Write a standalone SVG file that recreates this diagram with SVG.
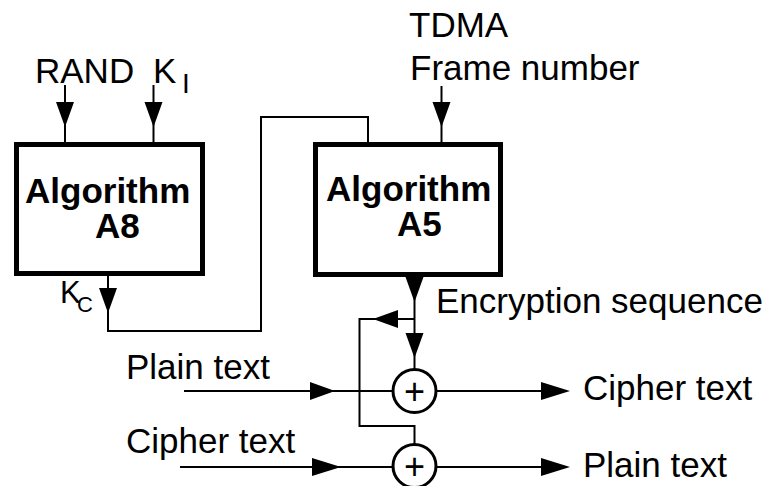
<svg xmlns="http://www.w3.org/2000/svg" xmlns:xlink="http://www.w3.org/1999/xlink" width="769" height="486" viewBox="0 0 769 486">
<style>
text{font-family:"Liberation Sans",Arial,sans-serif;fill:#000}
.lbl{font-size:35px}
.bold{font-size:35px;font-weight:bold}
.box{fill:#fff;stroke:#000;stroke-width:5}
.wire{fill:none;stroke:#000;stroke-width:2}
.xor{fill:#fff;stroke:#000;stroke-width:3}
.plus{font-size:36px;text-anchor:middle}
</style>
<defs>
<path id="ah" d="M0,0 L-25,-9 L-25,9 Z" fill="#000"/>
<path id="ahl" d="M0,0 L-29,-9 L-29,9 Z" fill="#000"/>
</defs>
<rect width="769" height="486" fill="#fff"/>
<g id="connectors">
<line class="wire" x1="65" y1="85" x2="65" y2="142"/>
<use xlink:href="#ah" transform="translate(65,127) rotate(90)"/>
<line class="wire" x1="153.5" y1="85" x2="153.5" y2="142"/>
<use xlink:href="#ah" transform="translate(153.5,127) rotate(90)"/>
<line class="wire" x1="441.5" y1="86" x2="441.5" y2="143"/>
<use xlink:href="#ah" transform="translate(441.5,127) rotate(90)"/>
<polyline class="wire" points="108,276 108,331 261,331 261,117 368,117 368,143"/>
<use xlink:href="#ah" transform="translate(108,313) rotate(90)"/>
<line class="wire" x1="414.5" y1="277" x2="414.5" y2="370"/>
<use xlink:href="#ah" transform="translate(414.5,302) rotate(90)"/>
<use xlink:href="#ah" transform="translate(414.5,358) rotate(90)"/>
<polyline class="wire" points="414.5,319 359.5,319 359.5,426 414.5,426 414.5,445"/>
<use xlink:href="#ah" transform="translate(373,319) rotate(180)"/>
<line class="wire" x1="184" y1="391" x2="394" y2="391"/>
<use xlink:href="#ah" transform="translate(335,391)"/>
<line class="wire" x1="436" y1="391" x2="550" y2="391"/>
<use xlink:href="#ahl" transform="translate(570,391)"/>
<line class="wire" x1="180" y1="467" x2="394" y2="467"/>
<use xlink:href="#ahl" transform="translate(341,467)"/>
<line class="wire" x1="436" y1="467" x2="550" y2="467"/>
<use xlink:href="#ahl" transform="translate(570,467)"/>
</g>
<g id="a8">
<rect class="box" x="16.5" y="144.5" width="186" height="129"/>
<text class="bold"><tspan x="25" y="203">Algorithm</tspan><tspan x="95" y="238">A8</tspan></text>
</g>
<g id="a5">
<rect class="box" x="315.5" y="144.5" width="185" height="130"/>
<text class="bold"><tspan x="326" y="201">Algorithm</tspan><tspan x="397" y="236">A5</tspan></text>
</g>
<g id="xor1">
<circle class="xor" cx="414.5" cy="391" r="21.5"/>
<text class="plus" x="414.5" y="403.5">+</text>
</g>
<g id="xor2">
<circle class="xor" cx="414.5" cy="466" r="21.5"/>
<text class="plus" x="414.5" y="478.5">+</text>
</g>
<g id="labels">
<text class="lbl" x="35" y="83">RAND</text>
<text class="lbl"><tspan x="153" y="83">K</tspan><tspan x="182" y="93" style="font-size:28px">I</tspan></text>
<text style="font-size:31px"><tspan x="60" y="303">K</tspan><tspan x="77" y="312" style="font-size:22px">C</tspan></text>
<text class="lbl" x="409" y="37">TDMA</text>
<text class="lbl" x="410" y="80">Frame number</text>
<text class="lbl" x="436" y="313">Encryption sequence</text>
<text class="lbl" x="126" y="379">Plain text</text>
<text class="lbl" x="126" y="453">Cipher text</text>
<text class="lbl" x="583" y="400">Cipher text</text>
<text class="lbl" x="583" y="477">Plain text</text>
</g>
</svg>
